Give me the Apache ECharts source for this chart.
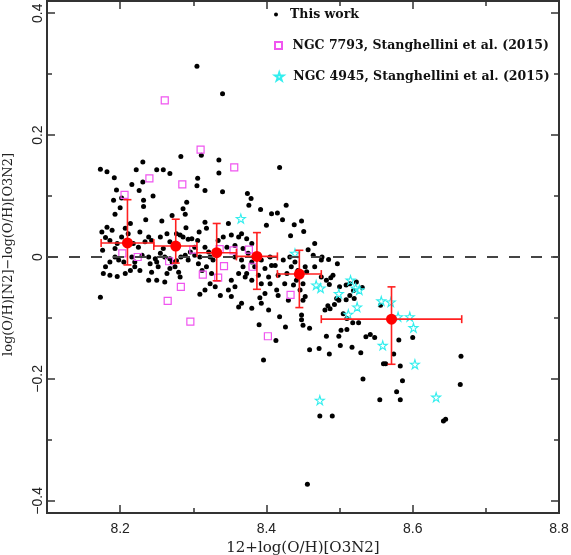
<!DOCTYPE html>
<html>
<head>
<meta charset="utf-8">
<script src="https://cdn.jsdelivr.net/npm/echarts@6/dist/echarts.min.js"></script>
<style>html,body{margin:0;padding:0;background:#fff;}#c{width:571px;height:555px;}</style>
</head>
<body>
<div id="c"></div>
<script>
// ---- data ----
var xTicksMajor = [8.2, 8.4, 8.6];
var xTicksMinor = [8.3, 8.5, 8.7];
var xTickLabels = [8.2, 8.4, 8.6, 8.8];
var yTicksMajor = [-0.4, -0.2, 0, 0.2, 0.4];
var yTicksMinor = [-0.3, -0.1, 0.1, 0.3];
var yTickLabels = [-0.4, -0.2, 0, 0.2, 0.4];

var seriesNames = ['This work', 'NGC 7793, Stanghellini et al. (2015)', 'NGC 4945, Stanghellini et al. (2015)'];

var thisWork = [
[8.173,0.144],[8.182,0.140],[8.192,0.130],[8.195,0.110],[8.222,0.143],[8.231,0.156],[8.250,0.143],[8.259,0.143],[8.268,0.137],[8.216,0.119],
[8.231,0.123],[8.283,0.165],[8.311,0.167],[8.305,0.117],[8.306,0.129],[8.305,0.313],[8.340,0.268],[8.335,0.159],[8.335,0.138],[8.418,0.147],
[8.191,0.093],[8.202,0.097],[8.200,0.081],[8.193,0.070],[8.226,0.109],[8.245,0.100],[8.232,0.093],[8.232,0.083],[8.235,0.061],[8.291,0.090],
[8.286,0.079],[8.289,0.070],[8.271,0.068],[8.257,0.059],[8.290,0.048],[8.316,0.109],[8.340,0.107],[8.374,0.104],[8.379,0.096],[8.376,0.085],
[8.392,0.078],[8.407,0.071],[8.415,0.072],[8.427,0.085],[8.400,0.052],[8.422,0.061],[8.438,0.053],[8.448,0.059],[8.451,0.042],[8.433,0.035],
[8.466,0.022],[8.457,0.012],[8.464,0.003],[8.453,-0.016],[8.466,-0.016],[8.475,-0.005],[8.475,-0.033],[8.180,0.032],[8.176,0.011],[8.186,0.027],
[8.196,0.022],[8.193,0.014],[8.211,0.038],[8.227,0.041],[8.234,0.025],[8.218,0.022],[8.225,0.016],[8.239,0.033],[8.243,0.027],[8.255,0.033],
[8.264,0.038],[8.268,0.025],[8.259,0.014],[8.261,0.000],[8.268,-0.003],[8.277,0.038],[8.282,0.036],[8.286,0.033],[8.293,0.029],[8.298,0.030],
[8.302,0.016],[8.308,0.041],[8.316,0.057],[8.318,0.047],[8.306,0.027],[8.316,0.016],[8.321,0.008],[8.323,0.000],[8.327,-0.005],[8.307,-0.011],
[8.312,-0.022],[8.318,-0.016],[8.325,-0.027],[8.334,0.027],[8.341,0.033],[8.348,0.055],[8.352,0.036],[8.346,0.016],[8.357,0.019],[8.362,0.033],
[8.366,0.038],[8.373,0.030],[8.368,0.014],[8.380,0.022],[8.375,0.006],[8.357,0.000],[8.366,-0.005],[8.368,-0.016],[8.362,-0.027],[8.352,-0.038],
[8.357,-0.049],[8.348,-0.054],[8.352,-0.065],[8.337,-0.063],[8.330,-0.049],[8.323,-0.044],[8.316,-0.054],[8.309,-0.061],[8.275,-0.016],[8.280,-0.025],
[8.282,-0.033],[8.268,-0.019],[8.264,-0.027],[8.261,-0.041],[8.250,-0.038],[8.239,-0.038],[8.227,-0.022],[8.220,-0.016],[8.214,-0.022],[8.216,0.000],
[8.205,-0.008],[8.198,-0.005],[8.193,0.000],[8.186,-0.008],[8.180,-0.016],[8.177,-0.027],[8.186,-0.030],[8.196,-0.032],[8.207,-0.027],[8.173,-0.066],
[8.366,-0.076],[8.362,-0.082],[8.380,-0.084],[8.393,-0.076],[8.403,-0.087],[8.418,-0.098],[8.416,-0.063],[8.414,-0.054],[8.430,-0.071],[8.398,-0.060],
[8.405,-0.044],[8.398,-0.019],[8.403,-0.033],[8.393,-0.005],[8.412,-0.014],[8.416,-0.030],[8.425,-0.044],[8.423,-0.005],[8.432,0.000],[8.434,-0.016],
[8.441,-0.038],[8.446,-0.054],[8.453,-0.065],[8.448,-0.095],[8.480,-0.087],[8.391,-0.067],[8.371,-0.033],[8.455,-0.024],[8.450,-0.044],[8.450,-0.071],
[8.390,-0.111],[8.396,-0.169],[8.426,-0.115],[8.413,-0.137],[8.448,-0.103],[8.450,-0.112],[8.459,-0.117],[8.459,-0.152],[8.472,-0.150],[8.473,-0.261],
[8.456,-0.373],[8.476,0.000],[8.485,-0.004],[8.497,-0.011],[8.482,-0.038],[8.488,-0.034],[8.500,-0.049],[8.509,-0.046],[8.514,-0.044],[8.523,-0.041],
[8.531,-0.050],[8.519,-0.055],[8.520,-0.068],[8.509,-0.070],[8.514,-0.063],[8.484,-0.080],[8.487,-0.085],[8.493,-0.078],[8.496,-0.068],[8.499,-0.071],
[8.505,-0.093],[8.518,-0.108],[8.526,-0.108],[8.510,-0.101],[8.502,-0.120],[8.510,-0.119],[8.482,-0.130],[8.499,-0.130],[8.536,-0.131],[8.542,-0.127],
[8.548,-0.132],[8.517,-0.148],[8.501,-0.145],[8.486,-0.159],[8.529,-0.157],[8.532,-0.200],[8.556,-0.079],[8.581,-0.136],[8.600,-0.132],[8.574,-0.159],
[8.560,-0.175],[8.563,-0.175],[8.583,-0.179],[8.586,-0.203],[8.578,-0.221],[8.583,-0.234],[8.555,-0.234],[8.666,-0.163],[8.665,-0.209],[8.642,-0.269],
[8.645,-0.266],[8.490,-0.261],[8.491,-0.030],[8.486,-0.045],
[8.220,-0.008],[8.230,0.003],[8.239,0.000],[8.241,-0.011],[8.248,-0.003],[8.255,0.006],[8.250,-0.008],[8.252,-0.016],[8.243,-0.025],[8.271,-0.008],
[8.277,-0.006],[8.283,0.000],[8.289,0.003],[8.296,0.008],[8.293,-0.005],[8.302,0.003],[8.309,0.000],[8.380,-0.008],[8.384,-0.016],[8.373,-0.027],
[8.380,-0.038],[8.389,-0.030],[8.393,-0.044],[8.405,0.000],[8.407,-0.014],[8.439,-0.008],[8.443,-0.022],[8.428,-0.027],[8.437,-0.046],[8.182,0.049],
[8.175,0.041],[8.189,0.044],[8.202,0.033],[8.207,0.047],[8.214,0.055]
];

var ngc7793 = [
[8.206,0.102],[8.240,0.129],[8.261,0.257],[8.285,0.119],[8.310,0.176],[8.356,0.147],[8.203,0.006],[8.224,0.000],[8.267,-0.007],[8.300,0.012],
[8.336,0.013],[8.355,0.011],[8.376,0.012],[8.342,-0.015],[8.313,-0.029],[8.334,-0.034],[8.381,-0.016],[8.283,-0.049],[8.265,-0.072],[8.296,-0.106],
[8.402,-0.130],[8.433,-0.062]
];

var ngc4945 = [
[8.365,0.063],[8.439,0.006],[8.468,-0.046],[8.474,-0.051],[8.499,-0.060],[8.515,-0.038],[8.522,-0.051],[8.527,-0.054],[8.512,-0.094],[8.524,-0.082],
[8.557,-0.072],[8.570,-0.074],[8.580,-0.098],[8.596,-0.098],[8.601,-0.116],[8.559,-0.145],[8.603,-0.176],[8.632,-0.230],[8.473,-0.235]
];

// binned means with error bars
var binX   = [8.210, 8.276, 8.332, 8.387, 8.445, 8.571];
var binY   = [0.023, 0.018, 0.007, 0.001, -0.028, -0.102];
var binXLo = [8.174, 8.246, 8.305, 8.359, 8.415, 8.475];
var binXHi = [8.246, 8.305, 8.359, 8.415, 8.475, 8.667];
var binYLo = [-0.013, -0.010, -0.039, -0.053, -0.083, -0.176];
var binYHi = [0.094, 0.062, 0.055, 0.040, 0.011, -0.049];

// ---- chart ----
var XMIN = 8.1, XMAX = 8.8, YMIN = -0.42, YMAX = 0.42;
var starPath = 'path://M50,0 L61,35 L98,35 L68,57 L79,91 L50,70 L21,91 L32,57 L2,35 L39,35 Z';
var squarePath = 'path://M0,0 L10,0 L10,10 L0,10 Z';
var axisCol = '#333';
var fmt = function (v) { var s = (Math.round(v * 10) / 10).toString(); return s.replace('-', '\u2212'); };

function xAx(pos, ticks, len, labels) {
  return {
    type: 'value', position: pos, min: XMIN, max: XMAX,
    axisLine: { show: true, onZero: false, lineStyle: { color: axisCol, width: 2 } },
    axisTick: { show: true, inside: true, length: len, customValues: ticks, lineStyle: { color: axisCol, width: 1.5 } },
    axisLabel: labels ? { show: true, customValues: labels, margin: 9, color: '#222', fontFamily: 'Liberation Sans', fontSize: 14, formatter: fmt } : { show: false },
    splitLine: { show: false }
  };
}
function yAx(pos, ticks, len, labels) {
  return {
    type: 'value', position: pos, min: YMIN, max: YMAX,
    axisLine: { show: true, onZero: false, lineStyle: { color: axisCol, width: 2 } },
    axisTick: { show: true, inside: true, length: len, customValues: ticks, lineStyle: { color: axisCol, width: 1.5 } },
    axisLabel: labels ? { show: true, customValues: labels, rotate: 90, margin: 9, color: '#222', fontFamily: 'Liberation Sans', fontSize: 14, formatter: fmt, verticalAlign: 'middle', align: 'center' } : { show: false },
    splitLine: { show: false }
  };
}

var xAxes = [xAx('bottom', xTicksMajor, 8, xTickLabels), xAx('top', xTicksMajor, 8, null), xAx('bottom', xTicksMinor, 5, null), xAx('top', xTicksMinor, 5, null)];
xAxes[0].name = '12+log(O/H)[O3N2]';
xAxes[0].nameLocation = 'middle';
xAxes[0].nameGap = 27;
xAxes[0].nameTextStyle = { fontFamily: 'DejaVu Serif', fontSize: 15, color: '#222' };
var yAxes = [yAx('left', yTicksMajor, 8, yTickLabels), yAx('right', yTicksMajor, 8, null), yAx('left', yTicksMinor, 5, null), yAx('right', yTicksMinor, 5, null)];
yAxes[0].name = 'log(O/H)[N2]\u2212log(O/H)[O3N2]';
yAxes[0].nameLocation = 'middle';
yAxes[0].nameGap = 32;
yAxes[0].nameTextStyle = { fontFamily: 'DejaVu Serif', fontSize: 13, color: '#222', padding: [0, 0, 0, 5] };

var errData = binX.map(function (x, i) { return [x, binY[i], binXLo[i], binXHi[i], binYLo[i], binYHi[i]]; });

var legText = { fontFamily: 'DejaVu Serif', fontSize: 12.5, fontWeight: 'bold', color: '#111' };

var chart = echarts.init(document.getElementById('c'), null, { renderer: 'canvas' });
chart.setOption({
  animation: false,
  backgroundColor: '#fff',
  grid: { left: 47, right: 12, top: 1, bottom: 42, containLabel: false, outerBoundsMode: 'none' },
  xAxis: xAxes,
  yAxis: yAxes,
  legend: [
    { data: [{ name: seriesNames[0], icon: 'circle' }], orient: 'vertical', left: 274, top: 8, padding: 0, itemWidth: 18, itemHeight: 4, selectedMode: false, textStyle: legText },
    { data: [{ name: seriesNames[1], icon: squarePath }], orient: 'vertical', left: 274, top: 39, padding: 0, itemWidth: 18, itemHeight: 7, selectedMode: false, textStyle: legText },
    { data: [{ name: seriesNames[2], icon: starPath }], orient: 'vertical', left: 274, top: 70, padding: 0, itemWidth: 18, itemHeight: 8, selectedMode: false, textStyle: legText }
  ],
  series: [
    {
      name: seriesNames[0], type: 'scatter', data: thisWork, symbol: 'circle', symbolSize: 5,
      itemStyle: { color: '#000', opacity: 1 }, z: 3,
      markLine: {
        silent: true, symbol: ['none', 'none'], label: { show: false },
        lineStyle: { color: '#444', type: [11, 11], width: 2 },
        data: [{ yAxis: 0 }]
      }
    },
    {
      name: seriesNames[1], type: 'scatter', data: ngc7793, symbol: 'rect', symbolSize: 7,
      itemStyle: { color: 'rgba(0,0,0,0)', borderColor: '#f055f0', borderWidth: 1.2, opacity: 1 }, z: 4
    },
    {
      name: seriesNames[2], type: 'scatter', data: ngc4945, symbol: starPath, symbolSize: 9,
      itemStyle: { color: 'rgba(0,0,0,0)', borderColor: '#33eeee', borderWidth: 1.1, opacity: 1 }, z: 4
    },
    {
      name: 'bins-err', type: 'custom', data: errData, z: 5,
      renderItem: function (params, api) {
        var c = api.coord([api.value(0), api.value(1)]);
        var xl = api.coord([api.value(2), api.value(1)]);
        var xh = api.coord([api.value(3), api.value(1)]);
        var yl = api.coord([api.value(0), api.value(4)]);
        var yh = api.coord([api.value(0), api.value(5)]);
        var st = { stroke: '#ff2020', lineWidth: 1.6 };
        var cap = 4;
        return { type: 'group', children: [
          { type: 'line', shape: { x1: xl[0], y1: c[1], x2: xh[0], y2: c[1] }, style: st },
          { type: 'line', shape: { x1: c[0], y1: yl[1], x2: c[0], y2: yh[1] }, style: st },
          { type: 'line', shape: { x1: xl[0], y1: c[1] - cap, x2: xl[0], y2: c[1] + cap }, style: st },
          { type: 'line', shape: { x1: xh[0], y1: c[1] - cap, x2: xh[0], y2: c[1] + cap }, style: st },
          { type: 'line', shape: { x1: c[0] - cap, y1: yl[1], x2: c[0] + cap, y2: yl[1] }, style: st },
          { type: 'line', shape: { x1: c[0] - cap, y1: yh[1], x2: c[0] + cap, y2: yh[1] }, style: st }
        ] };
      }
    },
    {
      name: 'bins', type: 'scatter', data: binX.map(function (x, i) { return [x, binY[i]]; }),
      symbol: 'circle', symbolSize: 11, itemStyle: { color: '#ff0000', opacity: 1 }, z: 6
    }
  ]
});
</script>
</body>
</html>
